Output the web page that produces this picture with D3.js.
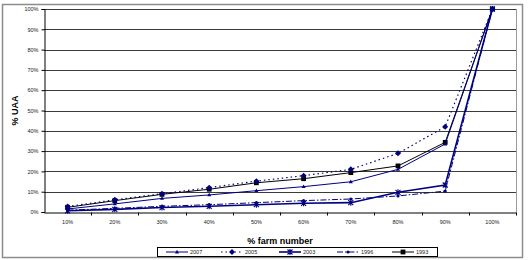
<!DOCTYPE html>
<html>
<head>
<meta charset="utf-8">
<script src="https://cdn.jsdelivr.net/npm/d3@7"></script>
<style>
  body { margin: 0; background: #fff; }
  text { font-family: "Liberation Sans", Arial, sans-serif; }
</style>
</head>
<body>
<div id="chart"></div>
<script>
// categories and series (cumulative % of UAA)
var categories = ["10%", "20%", "30%", "40%", "50%", "60%", "70%", "80%", "90%", "100%"];
var yTicks = [0, 10, 20, 30, 40, 50, 60, 70, 80, 90, 100];
var s2007 = [1.5, 4, 6.7, 8.4, 10.5, 12.5, 14.9, 21, 33.5, 100];
var s2005 = [2.7, 6, 9, 12, 15.2, 17.9, 21, 28.9, 42, 100];
var s2003 = [0.6, 1.3, 2.2, 2.8, 3.6, 4.3, 4.6, 9.7, 13.3, 100];
var s1996 = [0.9, 1.8, 2.8, 3.6, 4.6, 5.6, 6.4, 7.9, 10.3, 100];
var s1993 = [2.3, 5.6, 8.7, 11.2, 14.4, 16.4, 19.4, 22.7, 34.3, 100];
var seriesNames = ["2007", "2005", "2003", "1996", "1993"];

var series = [
  {name: "2007", values: s2007, color: "#000080", dash: null, width: 1, marker: "triangle"},
  {name: "2005", values: s2005, color: "#000080", dash: "1.5,3", width: 1.2, marker: "diamond"},
  {name: "2003", values: s2003, color: "#000080", dash: null, width: 1.6, marker: "star"},
  {name: "1996", values: s1996, color: "#000080", dash: "6,2,1.5,2", width: 1, marker: "circle"},
  {name: "1993", values: s1993, color: "#000000", dash: null, width: 1, marker: "square"}
];

var W = 528, H = 260;
var margin = {top: 9, right: 12, bottom: 48, left: 44},
    width = W - margin.left - margin.right,
    height = H - margin.top - margin.bottom;

var svg = d3.select("#chart").append("svg")
    .attr("width", W)
    .attr("height", H);

// chart area border
svg.append("rect")
    .attr("x", 2.5).attr("y", 4.5)
    .attr("width", 520).attr("height", 253)
    .attr("fill", "#fff")
    .attr("stroke", "#8c8c8c")
    .attr("stroke-width", 1.5);

var g = svg.append("g")
    .attr("transform", "translate(" + margin.left + "," + margin.top + ")");

var x = d3.scaleBand().domain(categories).range([0, width]);
var y = d3.scaleLinear().domain([0, 100]).range([height, 0]);

// gridlines
g.append("g")
  .selectAll("line")
  .data(yTicks.filter(function(d) { return d > 0; }))
  .enter().append("line")
    .attr("x1", 0).attr("x2", width)
    .attr("y1", function(d) { return Math.round(y(d)) + 0.5; })
    .attr("y2", function(d) { return Math.round(y(d)) + 0.5; })
    .attr("stroke", "#3a3a3a")
    .attr("stroke-width", 1);

// right edge of plot
g.append("line")
    .attr("x1", width + 0.5).attr("x2", width + 0.5)
    .attr("y1", 0).attr("y2", height)
    .attr("stroke", "#9a9a9a");

// y axis
var yAxis = g.append("g")
    .attr("transform", "translate(0.5,0)")
    .call(d3.axisLeft(y).tickValues(yTicks).tickSize(3).tickFormat(function(d) { return d + "%"; }));
yAxis.selectAll("text").style("font-size", "5.5px").attr("fill", "#222");
yAxis.select(".domain").attr("stroke", "#000");

// x axis with ticks on band boundaries
var xAxis = g.append("g")
    .attr("transform", "translate(0," + (height + 0.5) + ")")
    .call(d3.axisBottom(x).tickSize(0).tickPadding(8));
xAxis.selectAll("text").style("font-size", "5.5px").attr("fill", "#222");
xAxis.select(".domain").attr("stroke", "#000");
xAxis.selectAll(".bound")
  .data(categories)
  .enter().append("line")
    .attr("x1", function(d) { return Math.round(x(d) + x.bandwidth()) + 0.5; })
    .attr("x2", function(d) { return Math.round(x(d) + x.bandwidth()) + 0.5; })
    .attr("y1", 0).attr("y2", 3)
    .attr("stroke", "#000");

// axis titles
svg.append("text")
    .attr("x", margin.left + width / 2)
    .attr("y", 244)
    .attr("text-anchor", "middle")
    .style("font-size", "9px")
    .style("font-weight", "bold")
    .text("% farm number");

svg.append("text")
    .attr("transform", "translate(18," + (margin.top + height / 2) + ") rotate(-90)")
    .attr("text-anchor", "middle")
    .style("font-size", "9px")
    .style("font-weight", "bold")
    .text("% UAA");

var line = d3.line()
    .x(function(d, i) { return x(categories[i]) + x.bandwidth() / 2; })
    .y(function(d) { return y(d); });

function drawMarker(sel, type, color) {
  if (type === "triangle") {
    sel.append("path").attr("d", "M0,-2.2L2,1.4L-2,1.4Z").attr("fill", color);
  } else if (type === "diamond") {
    sel.append("path").attr("d", "M0,-3L3,0L0,3L-3,0Z").attr("fill", color);
  } else if (type === "star") {
    sel.append("path").attr("d", "M-2.5,-2.5L2.5,2.5M-2.5,2.5L2.5,-2.5M0,-3L0,3")
      .attr("stroke", color).attr("stroke-width", 1.1).attr("fill", "none");
  } else if (type === "circle") {
    sel.append("circle").attr("r", 1.6).attr("fill", color);
  } else if (type === "square") {
    sel.append("rect").attr("x", -2.4).attr("y", -2.4).attr("width", 4.8).attr("height", 4.8).attr("fill", color);
  }
}

// series lines and markers (draw 1993 first so blues sit over)
series.slice().reverse().forEach(function(s) {
  g.append("path")
    .datum(s.values)
    .attr("d", line)
    .attr("fill", "none")
    .attr("stroke", s.color)
    .attr("stroke-width", s.width)
    .attr("stroke-dasharray", s.dash);

  g.selectAll(".m" + s.name)
    .data(s.values)
    .enter().append("g")
      .attr("transform", function(d, i) {
        return "translate(" + (x(categories[i]) + x.bandwidth() / 2) + "," + y(d) + ")";
      })
      .each(function() { drawMarker(d3.select(this), s.marker, s.color); });
});

// legend
var legend = svg.append("g").attr("transform", "translate(157,247)");
legend.append("rect")
    .attr("x", 0.5).attr("y", 0.5)
    .attr("width", 280).attr("height", 9)
    .attr("fill", "#fff")
    .attr("stroke", "#000")
    .attr("stroke-width", 1);

var entryX = [9, 64, 122, 180, 235];
series.forEach(function(s, i) {
  var e = legend.append("g").attr("transform", "translate(" + entryX[i] + ",5)");
  e.append("line")
    .attr("x1", 0).attr("x2", 22)
    .attr("y1", 0).attr("y2", 0)
    .attr("stroke", s.color)
    .attr("stroke-width", s.width)
    .attr("stroke-dasharray", s.dash);
  var mk = e.append("g").attr("transform", "translate(11,0)");
  drawMarker(mk, s.marker, s.color);
  e.append("text")
    .attr("x", 24).attr("y", 2)
    .style("font-size", "5.5px")
    .attr("fill", "#222")
    .text(seriesNames[i]);
});
</script>
</body>
</html>
